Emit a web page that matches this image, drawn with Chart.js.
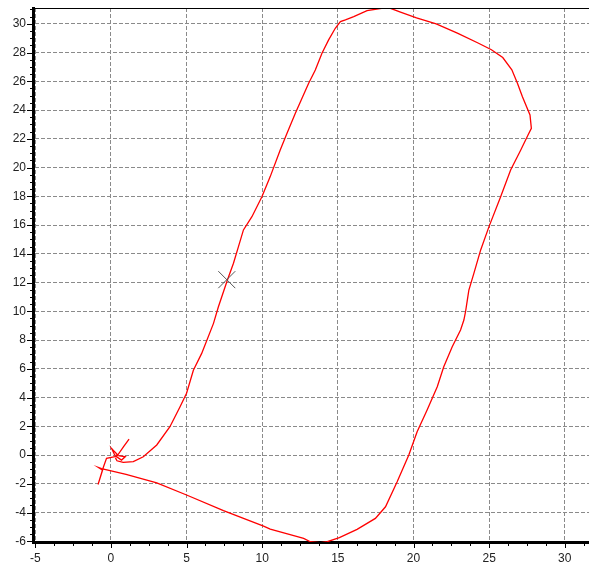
<!DOCTYPE html>
<html>
<head>
<meta charset="utf-8">
<script src="https://cdn.jsdelivr.net/npm/chart.js@4"></script>
<style>
html,body{margin:0;padding:0;background:#fff;}
#wrap{width:589px;height:567px;position:relative;}
</style>
</head>
<body>
<div id="wrap"><canvas id="c"></canvas></div>
<script>
// Track path (x, y)
const trackX = [1.2, 0.85, 0.45, 0.05, 0.25, 0.95, 0.7, 0.35, -0.29, -0.5, -0.85, -0.55, -0.8, -0.62,
  1.0, 3.03, 5.0, 7.44, 10.09, 10.53, 12.74, 13.18, 13.84, 14.3, 15.1, 16.27, 17.48, 18.15, 18.92,
  19.69, 20.24, 20.9, 21.57, 22.0, 22.56, 23.11, 23.33, 23.44, 23.56, 23.66, 23.99, 24.44, 24.99,
  25.76, 26.42, 27.09, 27.57, 27.79, 27.7, 27.2, 26.87, 26.5, 25.9, 25.15, 24.3, 22.9, 21.5, 20.2,
  19.14, 18.48, 18.0, 16.93, 16.05, 15.5, 15.17, 14.83, 14.39, 13.95, 13.51, 13.07, 12.63, 12.19,
  11.64, 11.19, 10.53, 9.98, 9.32, 8.76, 8.43, 8.1, 7.7, 7.1, 6.78, 6.0, 5.45, 5.0, 4.57, 3.9,
  3.03, 2.14, 1.48, 0.81, 0.4, 0.3];
const trackY = [1.1, 0.6, 0.0, 0.45, 0.0, -0.12, -0.35, -0.1, -0.23, -0.85, -2.05, -1.05, -0.88, -0.95,
  -1.35, -1.93, -2.78, -3.87, -4.94, -5.15, -5.8, -6.03, -6.1, -6.03, -5.75, -5.17, -4.41, -3.6, -1.86,
  0.0, 1.62, 3.13, 4.75, 6.14, 7.54, 8.7, 9.39, 9.97, 10.79, 11.48, 12.64, 14.27, 15.89,
  17.97, 19.83, 21.22, 22.27, 22.73, 23.66, 24.93, 25.87, 26.8, 27.65, 28.2, 28.65, 29.35, 30.0, 30.42,
  30.82, 31.08, 31.1, 30.92, 30.5, 30.27, 30.15, 29.69, 28.88, 27.95, 26.79, 25.87, 24.82, 23.78,
  22.39, 21.22, 19.37, 17.97, 16.58, 15.66, 14.5, 13.34, 12.18, 10.3, 9.16, 7.07, 5.9, 4.3, 3.36, 1.97,
  0.7, -0.12, -0.46, -0.51, -0.4, -0.2];
// Cross marker position
const markerX = [7.66];
const markerY = [12.2];
// Tick labels
const xTicks = [-5, 0, 5, 10, 15, 20, 25, 30];
const yTicks = [-6, -4, -2, 0, 2, 4, 6, 8, 10, 12, 14, 16, 18, 20, 22, 24, 26, 28, 30];

const trackData = trackX.map((x, i) => ({x: x, y: trackY[i]}));
const markerData = markerX.map((x, i) => ({x: x, y: markerY[i]}));

const frame = {
  id: 'frame',
  afterDraw(chart) {
    const {ctx, chartArea: a, scales: {x, y}} = chart;
    ctx.save();
    ctx.strokeStyle = '#000';
    ctx.lineWidth = 1;
    ctx.beginPath();
    // top border
    ctx.moveTo(a.left, a.top + 0.5); ctx.lineTo(a.right, a.top + 0.5);
    // x ticks
    for (let v = -5; v <= 31.5; v += 1.25) {
      const px = Math.round(x.getPixelForValue(v)) + 0.5;
      const major = Math.abs(v / 5 - Math.round(v / 5)) < 1e-6;
      ctx.moveTo(px, a.bottom); ctx.lineTo(px, a.bottom + (major ? 6 : 4));
    }
    // y ticks
    for (let v = -6; v <= 31; v += 0.5) {
      const py = Math.round(y.getPixelForValue(v)) + 0.5;
      const major = Math.abs(v / 2 - Math.round(v / 2)) < 1e-6;
      ctx.moveTo(a.left, py); ctx.lineTo(a.left - (major ? 6 : 3), py);
    }
    ctx.stroke();
    ctx.restore();
  }
};

new Chart(document.getElementById('c'), {
  type: 'scatter',
  data: {
    datasets: [
      {data: trackData, showLine: true, borderColor: '#ff0000', borderWidth: 1.3, pointRadius: 0, tension: 0, fill: false, order: 1},
      {data: markerData, showLine: false, pointStyle: 'crossRot', pointRadius: 12, borderColor: '#555', borderWidth: 1, backgroundColor: 'transparent', order: 0}
    ]
  },
  options: {
    responsive: true,
    maintainAspectRatio: false,
    animation: false,
    layout: {autoPadding: false, padding: {top: 8, right: 0, left: 0, bottom: 0}},
    plugins: {legend: {display: false}, tooltip: {enabled: false}},
    scales: {
      x: {
        type: 'linear', min: -5.15, max: 31.6,
        afterBuildTicks(s) { s.ticks = xTicks.map(v => ({value: v})); },
        afterFit(s) { s.height = 25; s.paddingLeft = 0; s.paddingRight = 0; },
        grid: {color: '#8a8a8a', lineWidth: 1, drawTicks: false},
        border: {display: true, color: '#000', width: 3, dash: [4, 2]},
        ticks: {padding: 9, color: '#222', font: {family: 'Liberation Sans', size: 12}, maxRotation: 0}
      },
      y: {
        type: 'linear', min: -6.05, max: 31.1,
        afterBuildTicks(s) { s.ticks = yTicks.map(v => ({value: v})); },
        afterFit(s) { s.width = 33; s.paddingTop = 0; s.paddingBottom = 0; },
        grid: {color: '#8a8a8a', lineWidth: 1, drawTicks: false},
        border: {display: true, color: '#000', width: 3, dash: [4, 2]},
        ticks: {padding: 7, color: '#222', font: {family: 'Liberation Sans', size: 12}}
      }
    }
  },
  plugins: [frame]
});
</script>
</body>
</html>
